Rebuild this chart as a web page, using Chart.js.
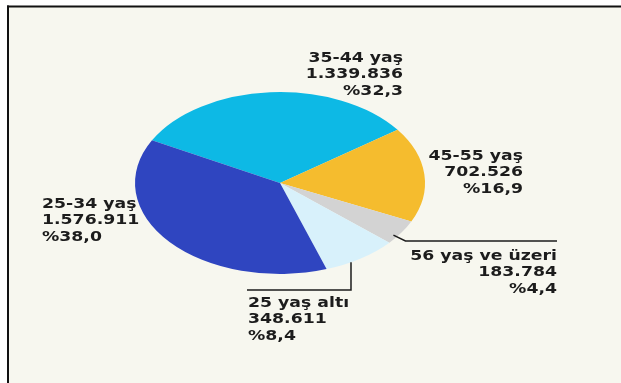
<!DOCTYPE html>
<html><head><meta charset="utf-8">
<style>html,body{margin:0;padding:0;background:#fff}canvas{display:block}</style>
<script src="https://cdn.jsdelivr.net/npm/chart.js@4/dist/chart.umd.min.js"></script>
</head><body>
<canvas id="c" width="621" height="383"></canvas>
<script>
const categories = ['35-44 yaş', '45-55 yaş', '56 yaş ve üzeri', '25 yaş altı', '25-34 yaş'];
const values = [1339836, 702526, 183784, 348611, 1576911];
const percentLabels = ['%32,3', '%16,9', '%4,4', '%8,4', '%38,0'];
const colors = ['#0db9e5', '#f5bc2e', '#d3d3d3', '#d8f1fb', '#2f45c0'];

function fmt(n){ return String(n).replace(/\B(?=(\d{3})+(?!\d))/g, '.'); }

const SY = 0.627;   // vertical squash of the pie
const SX = 1.3;     // horizontal stretch of the text
const FONT = 'bold 13.3px "DejaVu Sans", Verdana, sans-serif';
const LH = 16.4;

// label layout: anchor x, first-line centre y, alignment
const layout = [
  {x: 403, y: 57, align: 'right'},
  {x: 523, y: 155, align: 'right'},
  {x: 557, y: 255, align: 'right'},
  {x: 248, y: 302, align: 'left'},
  {x: 42,  y: 203, align: 'left'}
];

const bgPlugin = {
  id: 'bg',
  beforeDraw(chart){
    const ctx = chart.ctx;
    ctx.save();
    ctx.fillStyle = '#ffffff';
    ctx.fillRect(0, 0, chart.width, chart.height);
    ctx.fillStyle = '#f7f7ef';
    ctx.fillRect(8, 6, chart.width - 8, chart.height - 6);
    ctx.fillStyle = '#111';
    ctx.fillRect(7, 5.5, chart.width - 7, 2);
    ctx.fillRect(7, 5.5, 2, chart.height - 5.5);
    ctx.restore();
  }
};

const ellipsePlugin = {
  id: 'ellipse',
  beforeDatasetsDraw(chart){
    const a = chart.getDatasetMeta(0).data[0];
    const ctx = chart.ctx;
    ctx.save();
    ctx.translate(a.x, a.y);
    ctx.scale(1, SY);
    ctx.translate(-a.x, -a.y);
  },
  afterDatasetsDraw(chart){ chart.ctx.restore(); }
};

function arcPoint(arc, frac, rf){
  const ang = arc.startAngle + frac * (arc.endAngle - arc.startAngle);
  const r = arc.outerRadius * rf;
  return {x: arc.x + r * Math.cos(ang), y: arc.y + r * Math.sin(ang) * SY};
}

const labelPlugin = {
  id: 'labels',
  afterDraw(chart){
    const ctx = chart.ctx;
    const arcs = chart.getDatasetMeta(0).data;
    ctx.save();
    ctx.fillStyle = '#1c1c1c';
    ctx.font = FONT;
    categories.forEach((cat, i) => {
      const L = layout[i];
      const lines = [cat, fmt(values[i]), percentLabels[i]];
      lines.forEach((s, k) => {
        ctx.save();
        ctx.translate(L.x, L.y + k * LH + 4.9);
        ctx.scale(SX, 1);
        ctx.textAlign = L.align;
        ctx.textBaseline = 'alphabetic';
        ctx.fillText(s, 0, 0);
        ctx.restore();
      });
    });
    // leader lines
    ctx.strokeStyle = '#1c1c1c';
    ctx.lineWidth = 1.5;
    // 56 yaş ve üzeri
    let p = arcPoint(arcs[2], 0.7, 0.97);
    const y2 = layout[2].y - 14;
    ctx.beginPath();
    ctx.moveTo(p.x, p.y);
    ctx.lineTo(p.x + 12, y2);
    ctx.lineTo(layout[2].x, y2);
    ctx.stroke();
    // 25 yaş altı
    p = arcPoint(arcs[3], 0.65, 1.0);
    const y3 = layout[3].y - 12;
    ctx.beginPath();
    ctx.moveTo(p.x, p.y);
    ctx.lineTo(p.x, y3);
    ctx.lineTo(layout[3].x - 1, y3);
    ctx.stroke();
    ctx.restore();
  }
};

new Chart(document.getElementById('c'), {
  type: 'pie',
  data: {
    labels: categories,
    datasets: [{
      data: values,
      backgroundColor: colors,
      borderWidth: 0
    }]
  },
  options: {
    responsive: false,
    animation: false,
    rotation: -62,
    layout: {padding: {left: 135, right: 196, top: 38, bottom: 55}},
    plugins: {legend: {display: false}, tooltip: {enabled: false}}
  },
  plugins: [bgPlugin, ellipsePlugin, labelPlugin]
});
</script>
</body></html>
